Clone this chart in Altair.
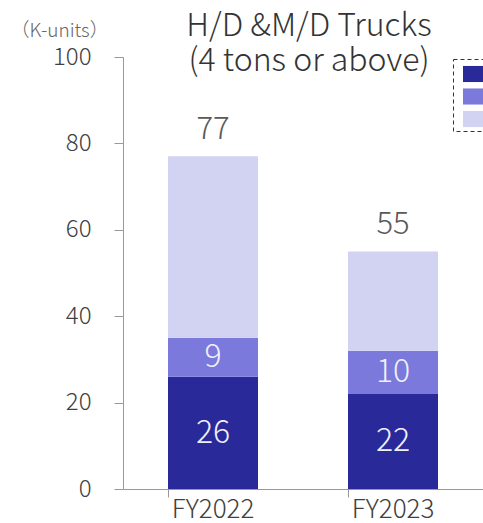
import altair as alt
import pandas as pd

years = ["FY2022", "FY2023"]
series = ["Isuzu", "UD Trucks", "Others"]
isuzu = [26, 22]
ud = [9, 10]
others = [42, 23]
colors = ["#29299A", "#7B79DC", "#D2D2F3"]

rows = []
for i, y in enumerate(years):
    for k, (s, vals) in enumerate(zip(series, [isuzu, ud, others])):
        rows.append({"year": y, "series": s, "value": vals[i], "order": k})
df = pd.DataFrame(rows)

FONT = "Noto Sans CJK JP"
W = 300

x_enc = alt.X(
    "year:N",
    title=None,
    scale=alt.Scale(paddingInner=0.5, paddingOuter=0.25),
    axis=alt.Axis(
        labelAngle=0, labelFontSize=26, labelFont=FONT, labelColor="#404040",
        labelFontWeight=W, labelBaseline="alphabetic",
        domainColor="#999999", tickColor="#999999", tickSize=8, bandPosition=0,
        labelPadding=20,
    ),
)

base = alt.Chart(df)

bars = base.mark_bar().encode(
    x=x_enc,
    y=alt.Y(
        "value:Q",
        stack="zero",
        scale=alt.Scale(domain=[0, 100]),
        axis=alt.Axis(
            values=[0, 20, 40, 60, 80, 100], grid=False,
            labelFontSize=24, labelFont=FONT, labelColor="#404040",
            labelFontWeight=W,
            domainColor="#999999", tickColor="#999999", tickSize=9,
            labelPadding=23,
            title="（K-units）", titleAngle=0, titleAlign="left",
            titleBaseline="alphabetic", titleX=-113, titleY=-21,
            titleFontSize=19, titleFont=FONT, titleColor="#666666",
            titleFontWeight=W,
        ),
    ),
    color=alt.Color(
        "series:N",
        scale=alt.Scale(domain=series, range=colors),
        legend=alt.Legend(
            title=None, orient="none", legendX=330, legendY=2,
            strokeColor="#333333", padding=3.5,
            symbolType="M-1,-0.7L1,-0.7L1,0.7L-1,0.7Z", symbolSize=529,
            symbolStrokeWidth=0, symbolOpacity=1, rowPadding=2.5,
            symbolOffset=6.5, labelExpr="''", labelPadding=0,
        ),
    ),
    order=alt.Order("order:Q", sort="ascending"),
)

inner = base.transform_stack(
    stack="value", groupby=["year"], sort=[alt.SortField("order", "ascending")],
    as_=["y0", "y1"],
).transform_calculate(
    mid="(datum.y0 + datum.y1) / 2"
).transform_filter(
    "datum.series != 'Others'"
).mark_text(
    fontSize=32, font=FONT, fontWeight=W, color="#F0F0FA", baseline="middle", align="center"
).encode(
    x="year:N",
    y="mid:Q",
    text="value:Q",
)

totals = base.transform_aggregate(
    total="sum(value)", groupby=["year"]
).mark_text(
    fontSize=31, font=FONT, fontWeight=W, color="#595959", baseline="alphabetic",
    align="center", dy=-17
).encode(
    x="year:N",
    y="total:Q",
    text="total:Q",
)

chart = alt.layer(bars, inner, totals).properties(
    width=360,
    height=432,
    autosize=alt.AutoSizeParams(type="none"),
    padding={"left": 123, "top": 57, "right": 0, "bottom": 34},
    title=alt.TitleParams(
        text=["H/D &M/D Trucks", "(4 tons or above)"],
        fontSize=32, font=FONT, color="#333333", fontWeight=W,
        anchor="middle", frame="group", lineHeight=35, offset=0, dx=6, dy=57,
    ),
).configure_view(stroke=None).configure_legend(strokeDash=[4, 3])

chart.save("out.html", embed_options={"renderer": "svg", "actions": False})
